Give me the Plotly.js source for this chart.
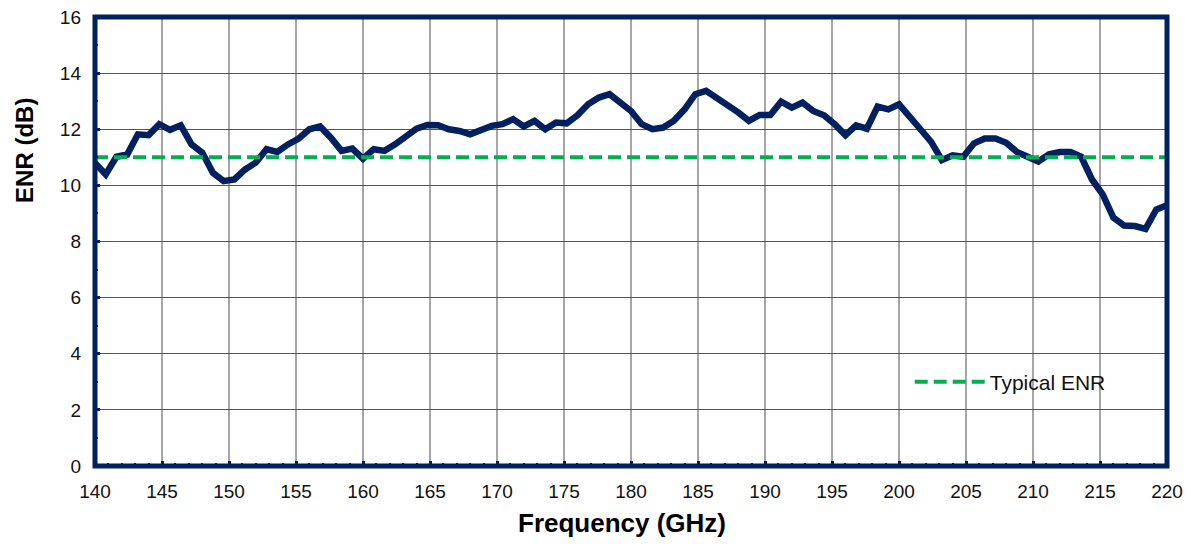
<!DOCTYPE html>
<html>
<head>
<meta charset="utf-8">
<script src="https://cdn.plot.ly/plotly-3.0.1.min.js"></script>
<style>html,body{margin:0;padding:0;background:#fff;}#chart{width:1191px;height:544px;}</style>
</head>
<body>
<div id="chart"></div>
<script>
// Frequency grid: 140 to 220 GHz in 0.8 GHz steps (101 samples)
const freqStart = 140;
const freqStep = 0.8;
const enrValues = [
  10.8, 10.39, 11.02, 11.1, 11.82, 11.79, 12.18, 11.98, 12.14, 11.46,
  11.17, 10.45, 10.15, 10.21, 10.57, 10.81, 11.29, 11.19, 11.46, 11.67,
  12.0, 12.1, 11.7, 11.23, 11.31, 10.95, 11.29, 11.23, 11.46, 11.76,
  12.02, 12.15, 12.14, 12.0, 11.94, 11.82, 12.0, 12.12, 12.18, 12.36,
  12.1, 12.3, 12.0, 12.24, 12.21, 12.5, 12.89, 13.13, 13.25, 12.95,
  12.65, 12.18, 12.0, 12.06, 12.3, 12.71, 13.25, 13.37, 13.13, 12.89,
  12.6, 12.3, 12.51, 12.51, 12.98, 12.77, 12.95, 12.65, 12.5, 12.18,
  11.79, 12.14, 12.02, 12.81, 12.71, 12.89, 12.48, 12.0, 11.55, 10.9,
  11.07, 11.02, 11.5, 11.67, 11.67, 11.52, 11.19, 10.99, 10.85, 11.11,
  11.19, 11.19, 11.02, 10.21, 9.68, 8.85, 8.57, 8.55, 8.45, 9.14,
  9.29
];
const frequencies = enrValues.map((_, i) => +(freqStart + i * freqStep).toFixed(1));
const typicalFreq = [140, 220];
const typicalENR = [11, 11];
const xTicks = [140,145,150,155,160,165,170,175,180,185,190,195,200,205,210,215,220];
const yTicks = [0,2,4,6,8,10,12,14,16];
const xTitle = 'Frequency (GHz)';
const yTitle = 'ENR (dB)';

const navy = '#00205f';
const font = 'Liberation Sans, Arial, sans-serif';

const traces = [
  {
    x: frequencies, y: enrValues, type: 'scatter', mode: 'lines',
    line: {color: navy, width: 6.5}, showlegend: false, name: 'ENR'
  },
  {
    x: typicalFreq, y: typicalENR, type: 'scatter', mode: 'lines',
    line: {color: '#00b050', width: 4, dash: '13px,6px'}, name: 'Typical ENR'
  }
];

const layout = {
  width: 1191, height: 544,
  margin: {l: 95, r: 24, t: 17, b: 78},
  paper_bgcolor: '#fff', plot_bgcolor: '#fff',
  font: {family: font, color: '#000', size: 19},
  xaxis: {
    range: [140, 220], tickvals: xTicks, ticktext: xTicks.map(String),
    showgrid: true, gridcolor: '#a6a6a6', gridwidth: 1.5,
    ticks: 'inside', ticklen: 5, tickwidth: 3, tickcolor: navy,
    minor: {dtick: 1, tick0: 140, ticks: 'inside', ticklen: 3, tickwidth: 2, tickcolor: navy, showgrid: false},
    zeroline: false, showline: false,
    ticklabelstandoff: 12,
    tickfont: {size: 19, family: font, color: '#111'}
  },
  yaxis: {
    range: [0, 16], tickvals: yTicks, ticktext: yTicks.map(String),
    showgrid: true, gridcolor: '#555555', gridwidth: 1,
    ticks: 'inside', ticklen: 5, tickwidth: 3, tickcolor: navy,
    minor: {dtick: 1, tick0: 0, ticks: 'inside', ticklen: 3, tickwidth: 2, tickcolor: navy, showgrid: false},
    zeroline: false, showline: false,
    ticklabelstandoff: 13,
    tickfont: {size: 19, family: font, color: '#111'}
  },
  annotations: [
    {text: '<b>' + xTitle + '</b>', xref: 'paper', yref: 'paper', x: 0.4916, y: -0.127,
     xanchor: 'center', yanchor: 'middle', showarrow: false,
     font: {size: 26, family: font, color: '#000'}},
    {text: '<b>' + yTitle + '</b>', xref: 'paper', yref: 'paper', x: -0.0653, y: 0.704,
     xanchor: 'center', yanchor: 'middle', showarrow: false, textangle: -90,
     font: {size: 24, family: font, color: '#000'}}
  ],
  legend: {
    x: 0.760, y: 0.187, xanchor: 'left', yanchor: 'middle',
    bgcolor: 'rgba(0,0,0,0)', borderwidth: 0, itemwidth: 70,
    font: {size: 21, family: font, color: '#111'}
  },
  shapes: [
    {type: 'rect', xref: 'paper', yref: 'paper', x0: 0, x1: 1, y0: 0, y1: 1,
     line: {color: navy, width: 5}, layer: 'above'}
  ]
};

Plotly.newPlot('chart', traces, layout, {displayModeBar: false, staticPlot: true});
</script>
</body>
</html>
